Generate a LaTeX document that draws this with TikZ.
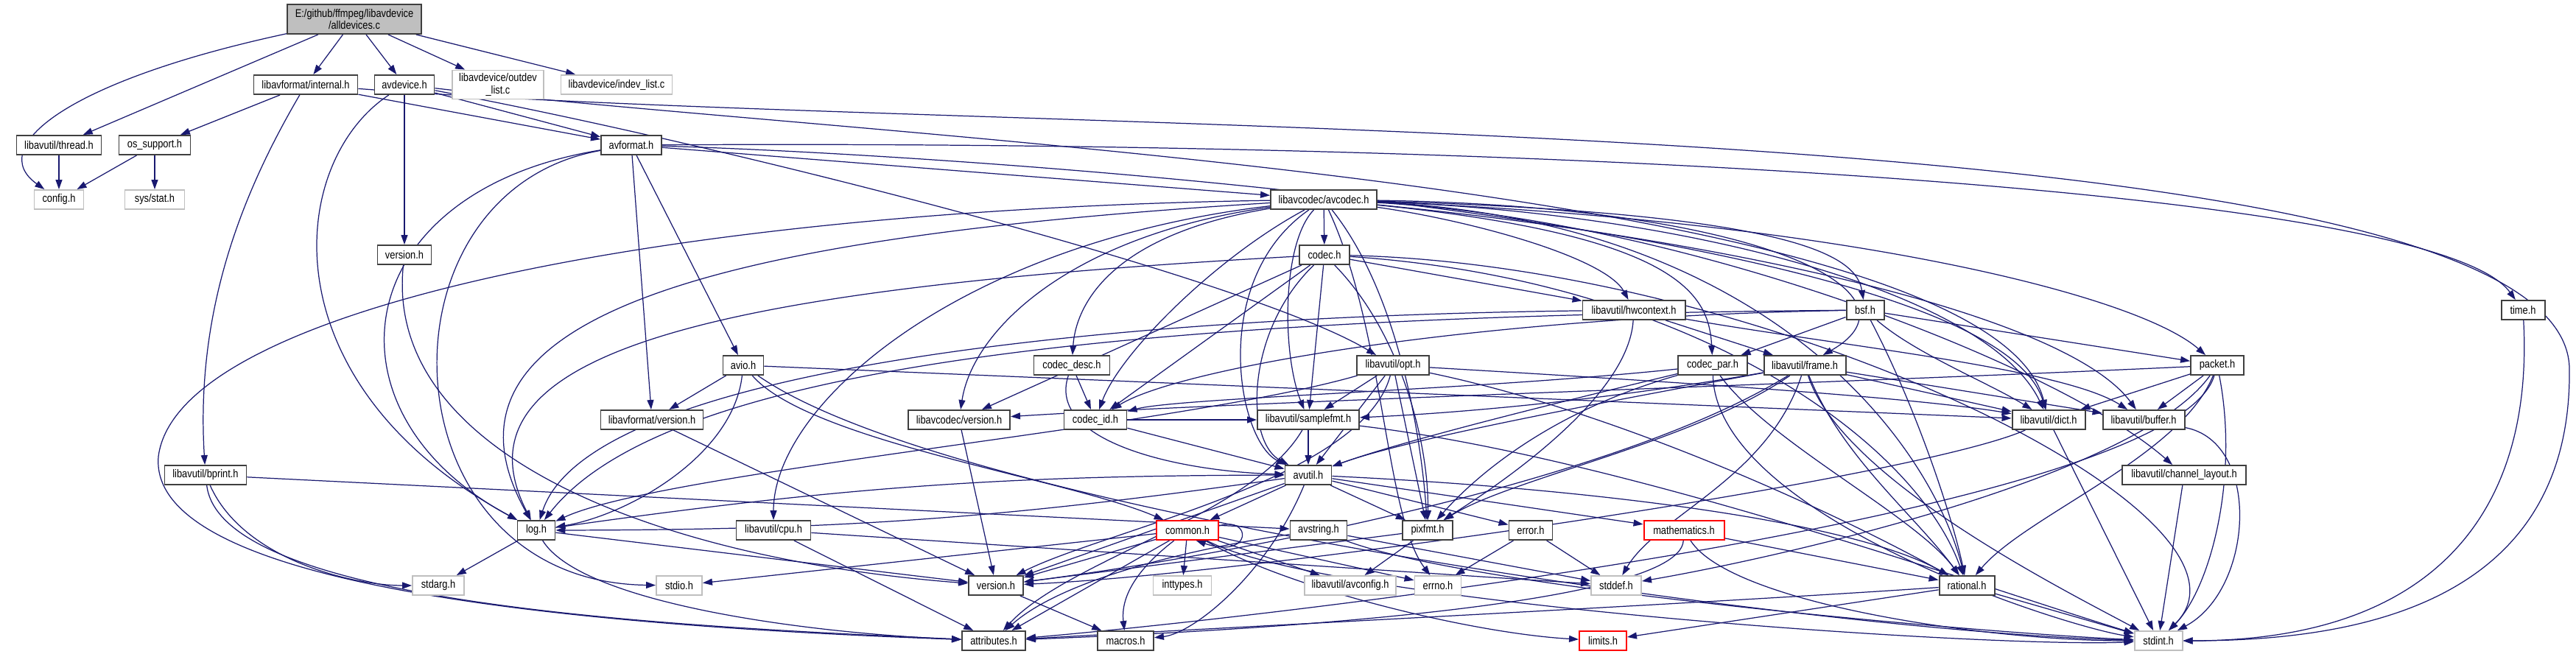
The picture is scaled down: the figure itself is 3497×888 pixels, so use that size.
\documentclass[tikz,border=0pt]{standalone}
\usepackage{fontspec}
\setmainfont[FakeStretch=0.84]{Liberation Sans}
\usetikzlibrary{arrows.meta}
\definecolor{edgec}{HTML}{191970}
\definecolor{gbord}{HTML}{BFBFBF}
\definecolor{bbord}{HTML}{3F3F3F}
\pgfdeclarelayer{bg}
\pgfsetlayers{bg,main}
\tikzset{
  box/.style={rectangle, fill=white, line width=1.1pt, minimum height=0.52cm, inner sep=1pt,
    font=\fontsize{8.7}{9.5}\selectfont, align=center},
  nb/.style={box, draw=bbord},
  ng/.style={box, draw=gbord},
  nr/.style={box, draw=red},
  ntop/.style={box, draw=bbord, fill=gbord, minimum height=0.8cm},
  bw/.style={minimum width=#1*0.02cm},
  dep/.style={draw=edgec, line width=0.7pt, -{Triangle[length=0.26cm,width=0.18cm]}},
}
\begin{document}
\begin{tikzpicture}[x=0.02cm,y=-0.02cm]
\useasboundingbox (0,0) rectangle (3497,888);
% nodes
\node[ntop,bw=182] (top) at (481,26) {E:/github/ffmpeg/libavdevice\\/alldevices.c};
\node[nb,bw=141] (internal) at (415,115) {libavformat/internal.h};
\node[nb,bw=81] (avdevice) at (549,115) {avdevice.h};
\node[ng,bw=124,minimum height=0.78cm] (outdev) at (676,115) {libavdevice/outdev\\\_list.c};
\node[ng,bw=151] (indev) at (837,115) {libavdevice/indev\_list.c};
\node[nb,bw=115] (thread) at (80,197) {libavutil/thread.h};
\node[nb,bw=97] (ossupport) at (210,197) {os\_support.h};
\node[nb,bw=82] (avformat) at (857,197) {avformat.h};
\node[ng,bw=67] (config) at (80,271) {config.h};
\node[ng,bw=81] (sysstat) at (210,271) {sys/stat.h};
\node[nb,bw=144] (avcodec) at (1797,271) {libavcodec/avcodec.h};
\node[nb,bw=73] (dversion) at (549,346) {version.h};
\node[nb,bw=68] (codec) at (1798,346) {codec.h};
\node[nb,bw=139] (hwcontext) at (2218,421) {libavutil/hwcontext.h};
\node[nb,bw=51] (bsf) at (2532,421) {bsf.h};
\node[nb,bw=59] (time) at (3425,421) {time.h};
\node[nb,bw=55] (avio) at (1009,496) {avio.h};
\node[nb,bw=103] (codecdesc) at (1455,496) {codec\_desc.h};
\node[nb,bw=98] (opt) at (1891,496) {libavutil/opt.h};
\node[nb,bw=94] (codecpar) at (2325,496) {codec\_par.h};
\node[nb,bw=111] (frame) at (2450,496) {libavutil/frame.h};
\node[nb,bw=72] (packet) at (3010,496) {packet.h};
\node[nb,bw=139] (fversion) at (885,570) {libavformat/version.h};
\node[nb,bw=138] (cversion) at (1302,570) {libavcodec/version.h};
\node[nb,bw=85] (codecid) at (1487,570) {codec\_id.h};
\node[nb,bw=138] (samplefmt) at (1776,570) {libavutil/samplefmt.h};
\node[nb,bw=99] (dict) at (2781,570) {libavutil/dict.h};
\node[nb,bw=111] (buffer) at (2910,570) {libavutil/buffer.h};
\node[nb,bw=111] (bprint) at (279,645) {libavutil/bprint.h};
\node[nb,bw=63] (avutil) at (1776,645) {avutil.h};
\node[nb,bw=168] (chlayout) at (2965,645) {libavutil/channel\_layout.h};
\node[nb,bw=51] (log) at (728,720) {log.h};
\node[nb,bw=101] (cpu) at (1050,720) {libavutil/cpu.h};
\node[nr,bw=84] (common) at (1612,720) {common.h};
\node[nb,bw=77] (avstring) at (1790,720) {avstring.h};
\node[nb,bw=68] (pixfmt) at (1938,720) {pixfmt.h};
\node[nb,bw=59] (error) at (2078,720) {error.h};
\node[nr,bw=109] (mathematics) at (2286,720) {mathematics.h};
\node[ng,bw=70] (stdarg) at (595,795) {stdarg.h};
\node[ng,bw=62] (stdio) at (922,795) {stdio.h};
\node[nb,bw=74] (uversion) at (1352,795) {version.h};
\node[ng,bw=79] (inttypes) at (1605,795) {inttypes.h};
\node[ng,bw=124] (avconfig) at (1833,795) {libavutil/avconfig.h};
\node[ng,bw=63] (errno) at (1952,795) {errno.h};
\node[ng,bw=68] (stddef) at (2194,795) {stddef.h};
\node[nb,bw=75] (rational) at (2670,795) {rational.h};
\node[nb,bw=86] (attributes) at (1349,870) {attributes.h};
\node[nb,bw=76] (macros) at (1528,870) {macros.h};
\node[nr,bw=64] (limits) at (2176,870) {limits.h};
\node[ng,bw=65] (stdint) at (2930,870) {stdint.h};

\begin{pgfonlayer}{bg}
\fill[white] (0,0) rectangle (3497,888);
% top
\draw[dep] (top) .. controls (90,110) and (-20,200) .. (config);
\draw[dep] (top) -- (thread);
\draw[dep] (top) -- (internal);
\draw[dep] (top) -- (avdevice);
\draw[dep] (top) -- (outdev);
\draw[dep] (top) -- (indev);
\draw[dep] (thread) -- (config);
\draw[dep] (ossupport) -- (config);
\draw[dep] (ossupport) -- (sysstat);
% internal
\draw[dep] (internal) -- (ossupport);
\draw[dep] (internal) .. controls (330,260) and (265,420) .. (bprint);
\draw[dep] (internal) -- (avformat);
\draw[dep] (internal) .. controls (1400,190) and (3480,140) .. (3488,500) .. controls (3492,820) and (3200,870) .. (stdint);
% avdevice
\draw[dep] (avdevice) -- (dversion);
\draw[dep] (avdevice) .. controls (390,220) and (360,520) .. (log);
\draw[dep] (avdevice) -- (avformat);
\draw[dep] (avdevice) .. controls (1000,200) and (1700,380) .. (opt);
\draw[dep] (avdevice) .. controls (1200,190) and (2700,250) .. (dict);
\draw[dep] (dversion) .. controls (520,620) and (900,760) .. (uversion);
% avformat
\draw[dep] (avformat) .. controls (2000,190) and (3300,250) .. (time);
\draw[dep] (avformat) .. controls (500,260) and (520,790) .. (stdio);
\draw[dep] (avformat) -- (avcodec);
\draw[dep] (avformat) .. controls (1300,210) and (2700,300) .. (dict);
\draw[dep] (avformat) .. controls (470,260) and (430,560) .. (log);
\draw[dep] (avformat) -- (avio);
\draw[dep] (avformat) -- (fversion);
\draw[dep] (fversion) -- (uversion);
% avio
\draw[dep] (avio) -- (fversion);
\draw[dep] (avio) .. controls (995,620) and (850,700) .. (log);
\draw[dep] (avio) .. controls (1100,600) and (1450,650) .. (common);
\draw[dep] (avio) -- (dict);
\draw[dep] (avio) .. controls (1300,700) and (2500,860) .. (stdint);
% avcodec
\draw[dep] (avcodec) .. controls (900,285) and (240,420) .. (215,620) .. controls (200,800) and (800,850) .. (attributes);
\draw[dep] (avcodec) .. controls (1740,330) and (1740,480) .. (samplefmt);
\draw[dep] (avcodec) .. controls (1640,380) and (1680,600) .. (avutil);
\draw[dep] (avcodec) .. controls (2300,320) and (2800,420) .. (buffer);
\draw[dep] (avcodec) .. controls (1300,330) and (1050,550) .. (cpu);
\draw[dep] (avcodec) .. controls (2300,300) and (2800,500) .. (chlayout);
\draw[dep] (avcodec) .. controls (2300,290) and (2700,400) .. (dict);
\draw[dep] (avcodec) .. controls (2400,280) and (2620,400) .. (frame);
\draw[dep] (avcodec) .. controls (2000,300) and (2180,350) .. (hwcontext);
\draw[dep] (avcodec) .. controls (1000,320) and (560,420) .. (log);
\draw[dep] (avcodec) .. controls (1900,400) and (1930,600) .. (pixfmt);
\draw[dep] (avcodec) .. controls (2400,300) and (2620,600) .. (rational);
\draw[dep] (avcodec) .. controls (2450,290) and (2520,350) .. (bsf);
\draw[dep] (avcodec) -- (codec);
\draw[dep] (avcodec) .. controls (1500,320) and (1460,420) .. (codecdesc);
\draw[dep] (avcodec) .. controls (2280,320) and (2320,400) .. (codecpar);
\draw[dep] (avcodec) .. controls (1650,350) and (1520,480) .. (codecid);
\draw[dep] (avcodec) .. controls (2500,300) and (2900,400) .. (packet);
\draw[dep] (avcodec) .. controls (1450,320) and (1320,450) .. (cversion);
\draw[dep] (avcodec) .. controls (1880,450) and (1880,700) .. (errno);
% codec
\draw[dep] (codec) .. controls (2400,360) and (3100,700) .. (stdint);
\draw[dep] (codec) .. controls (1690,450) and (1690,600) .. (avutil);
\draw[dep] (codec) -- (hwcontext);
\draw[dep] (codec) .. controls (1000,390) and (600,470) .. (log);
\draw[dep] (codec) .. controls (1900,450) and (1940,600) .. (pixfmt);
\draw[dep] (codec) .. controls (2300,380) and (2600,600) .. (rational);
\draw[dep] (codec) -- (samplefmt);
\draw[dep] (codec) -- (codecid);
\draw[dep] (codec) -- (cversion);
% codec_desc
\draw[dep] (codecdesc) -- (codecid);
\draw[dep] (codecdesc) .. controls (1420,600) and (1600,640) .. (avutil);
% codec_par
\draw[dep] (codecpar) .. controls (2330,700) and (2800,850) .. (stdint);
\draw[dep] (codecpar) .. controls (2100,550) and (1900,600) .. (avutil);
\draw[dep] (codecpar) .. controls (2400,600) and (2600,700) .. (rational);
\draw[dep] (codecpar) .. controls (2100,560) and (2000,650) .. (pixfmt);
\draw[dep] (codecpar) .. controls (2000,530) and (1600,540) .. (codecid);
% codec_id
\draw[dep] (codecid) -- (avutil);
\draw[dep] (codecid) -- (samplefmt);
% bsf
\draw[dep] (bsf) .. controls (2600,480) and (2700,520) .. (dict);
\draw[dep] (bsf) .. controls (1500,430) and (900,500) .. (log);
\draw[dep] (bsf) .. controls (2600,550) and (2650,700) .. (rational);
\draw[dep] (bsf) .. controls (2000,430) and (1600,500) .. (codecid);
\draw[dep] (bsf) -- (codecpar);
\draw[dep] (bsf) -- (packet);
% hwcontext
\draw[dep] (hwcontext) .. controls (2500,470) and (2800,500) .. (buffer);
\draw[dep] (hwcontext) -- (frame);
\draw[dep] (hwcontext) .. controls (1500,430) and (800,500) .. (log);
\draw[dep] (hwcontext) .. controls (2210,550) and (2000,680) .. (pixfmt);
% frame
\draw[dep] (frame) .. controls (2400,650) and (2250,700) .. (stddef);
\draw[dep] (frame) .. controls (2500,650) and (2800,800) .. (stdint);
\draw[dep] (frame) .. controls (2100,560) and (1900,600) .. (avutil);
\draw[dep] (frame) -- (buffer);
\draw[dep] (frame) -- (dict);
\draw[dep] (frame) .. controls (2500,620) and (2600,700) .. (rational);
\draw[dep] (frame) .. controls (2200,540) and (2000,560) .. (samplefmt);
\draw[dep] (frame) .. controls (2300,600) and (2050,650) .. (pixfmt);
\draw[dep] (frame) .. controls (2200,650) and (1700,750) .. (uversion);
% opt
\draw[dep] (opt) .. controls (2200,560) and (2500,700) .. (rational);
\draw[dep] (opt) -- (avutil);
\draw[dep] (opt) .. controls (2300,520) and (2600,540) .. (dict);
\draw[dep] (opt) .. controls (1600,580) and (900,640) .. (log);
\draw[dep] (opt) -- (pixfmt);
\draw[dep] (opt) -- (samplefmt);
\draw[dep] (opt) .. controls (1850,650) and (1500,720) .. (uversion);
% samplefmt
\draw[dep] (samplefmt) .. controls (2200,620) and (2700,800) .. (stdint);
\draw[dep] (samplefmt) -- (avutil);
\draw[dep] (samplefmt) .. controls (1700,700) and (1450,760) .. (attributes);
% packet
\draw[dep] (packet) .. controls (2900,650) and (2400,760) .. (stddef);
\draw[dep] (packet) .. controls (3040,650) and (3000,800) .. (stdint);
\draw[dep] (packet) .. controls (2950,700) and (1700,840) .. (attributes);
\draw[dep] (packet) -- (buffer);
\draw[dep] (packet) -- (dict);
\draw[dep] (packet) .. controls (2960,620) and (2750,700) .. (rational);
\draw[dep] (packet) .. controls (2500,520) and (1700,545) .. (cversion);
% misc
\draw[dep] (cversion) -- (uversion);
\draw[dep] (dict) -- (stdint);
\draw[dep] (dict) .. controls (2600,650) and (1700,780) .. (uversion);
\draw[dep] (buffer) .. controls (3070,600) and (3060,800) .. (stdint);
\draw[dep] (chlayout) -- (stdint);
\draw[dep] (time) .. controls (3440,700) and (3300,870) .. (stdint);
% bprint
\draw[dep] (bprint) .. controls (330,760) and (480,795) .. (stdarg);
\draw[dep] (bprint) .. controls (300,820) and (900,850) .. (attributes);
\draw[dep] (bprint) -- (avstring);
% log
\draw[dep] (log) -- (stdarg);
\draw[dep] (log) to[bend left=4] (avutil);
\draw[dep] (log) .. controls (790,820) and (1100,860) .. (attributes);
\draw[dep] (log) -- (uversion);
% avutil
\draw[dep] (avutil) to[bend left=4] (log);
\draw[dep] (avutil) -- (common);
\draw[dep] (avutil) -- (error);
\draw[dep] (avutil) .. controls (2100,660) and (2500,700) .. (rational);
\draw[dep] (avutil) -- (uversion);
\draw[dep] (avutil) .. controls (1720,780) and (1620,860) .. (macros);
\draw[dep] (avutil) -- (mathematics);
\draw[dep] (avutil) -- (pixfmt);
% cpu
\draw[dep] (cpu) -- (attributes);
\draw[dep] (cpu) -- (stddef);
% common
\draw[dep] (common) -- (errno);
\draw[dep] (common) -- (inttypes);
\draw[dep] (common) .. controls (1750,800) and (2000,860) .. (limits);
\draw[dep] (common) .. controls (1800,820) and (2700,880) .. (stdint);
\draw[dep] (common) -- (stdio);
\draw[dep] (common) -- (attributes);
\draw[dep] (common) .. controls (1560,760) and (1520,800) .. (macros);
\draw[dep] (common) -- (uversion);
\draw[dep] (common) -- (avconfig);
\draw[dep] (common.8) .. controls (1700,700) and (1700,760) .. (common.-50);
% avstring
\draw[dep] (avstring) -- (stddef);
\draw[dep] (avstring) .. controls (2000,800) and (2700,860) .. (stdint);
\draw[dep] (avstring) .. controls (1650,740) and (1450,780) .. (attributes);
% pixfmt
\draw[dep] (pixfmt) -- (avconfig);
\draw[dep] (pixfmt) -- (uversion);
% error
\draw[dep] (error) -- (errno);
\draw[dep] (error) -- (stddef);
% mathematics
\draw[dep] (mathematics) .. controls (2350,820) and (2700,870) .. (stdint);
\draw[dep] (mathematics) .. controls (2280,830) and (1600,860) .. (attributes);
\draw[dep] (mathematics) -- (rational);
% version, rational
\draw[dep] (uversion) -- (macros);
\draw[dep] (rational) -- (limits);
\draw[dep] (rational) -- (stdint);
\draw[dep] (rational) .. controls (2300,820) and (1700,850) .. (attributes);
\end{pgfonlayer}
\end{tikzpicture}
\end{document}
